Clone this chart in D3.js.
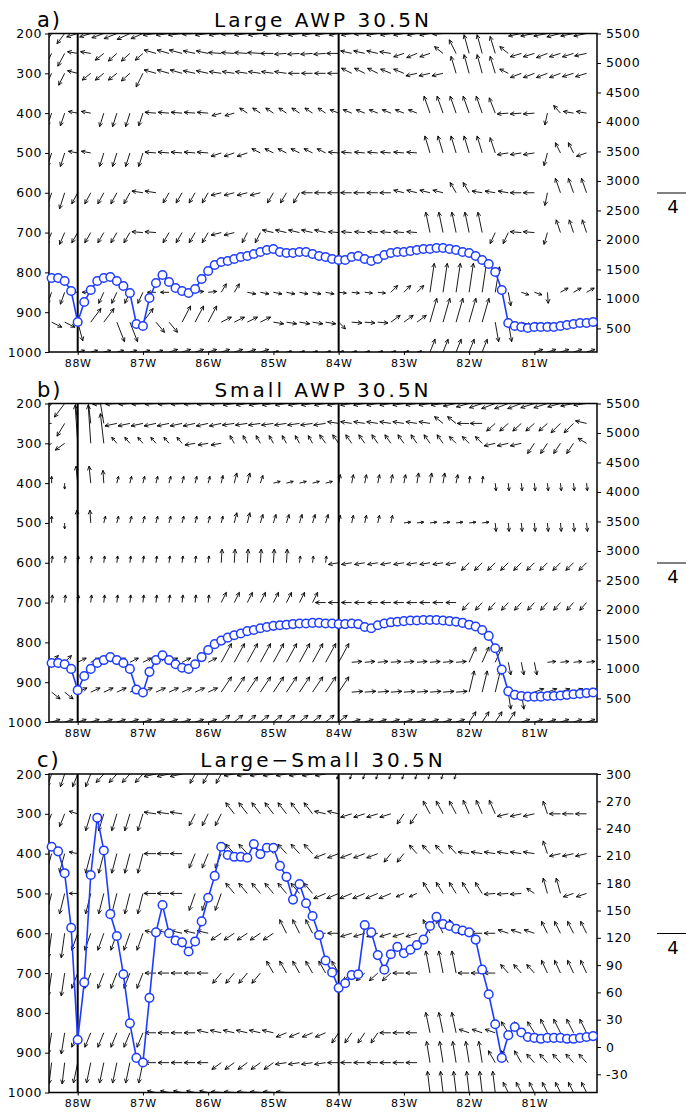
<!DOCTYPE html>
<html>
<head>
<meta charset="utf-8">
<script src="https://cdnjs.cloudflare.com/ajax/libs/d3/7.8.5/d3.min.js"></script>
<style>
  body { margin: 0; background: #fff; }
  svg text { font-family: "DejaVu Sans", sans-serif; fill: #000; }
</style>
</head>
<body>
<svg width="686" height="1113"></svg>
<script>
// ---- data ----
const levels = [200, 250, 300, 400, 500, 600, 700, 850, 925, 1000];
const presTicks = [200, 300, 400, 500, 600, 700, 800, 900, 1000];
const htTicks = [5500, 5000, 4500, 4000, 3500, 3000, 2500, 2000, 1500, 1000, 500];
const diffTicks = [300, 270, 240, 210, 180, 150, 120, 90, 60, 30, 0, -30];
const lonTicks = [-88, -87, -86, -85, -84, -83, -82, -81];
const markLons = [-88, -84];

// longitudes of the vectors (every 0.2 deg)
const lonV = [-88.4,-88.2,-88.0,-87.8,-87.6,-87.4,-87.2,-87.0,-86.8,-86.6,-86.4,-86.2,-86.0,-85.8,-85.6,-85.4,-85.2,-85.0,-84.8,-84.6,-84.4,-84.2,-84.0,-83.8,-83.6,-83.4,-83.2,-83.0,-82.8,-82.6,-82.4,-82.2,-82.0,-81.8,-81.6,-81.4,-81.2,-81.0,-80.8,-80.6,-80.4,-80.2];

// longitudes of the blue line points (every 0.1 deg)
const lonL = [-88.4,-88.3,-88.2,-88.1,-88.0,-87.9,-87.8,-87.7,-87.6,-87.5,-87.4,-87.3,-87.2,-87.1,-87.0,-86.9,-86.8,-86.7,-86.6,-86.5,-86.4,-86.3,-86.2,-86.1,-86.0,-85.9,-85.8,-85.7,-85.6,-85.5,-85.4,-85.3,-85.2,-85.1,-85.0,-84.9,-84.8,-84.7,-84.6,-84.5,-84.4,-84.3,-84.2,-84.1,-84.0,-83.9,-83.8,-83.7,-83.6,-83.5,-83.4,-83.3,-83.2,-83.1,-83.0,-82.9,-82.8,-82.7,-82.6,-82.5,-82.4,-82.3,-82.2,-82.1,-82.0,-81.9,-81.8,-81.7,-81.6,-81.5,-81.4,-81.3,-81.2,-81.1,-81.0,-80.9,-80.8,-80.7,-80.6,-80.5,-80.4,-80.3,-80.2,-80.1];

const heightLarge = [1355,1355,1304,1134,609,948,1151,1304,1355,1372,1304,1219,1100,575,541,1016,1270,1406,1287,1185,1134,1100,1168,1338,1473,1575,1626,1643,1677,1711,1728,1762,1796,1829,1846,1796,1779,1779,1796,1796,1762,1728,1711,1677,1660,1660,1711,1728,1677,1643,1677,1745,1779,1796,1796,1812,1829,1846,1846,1863,1863,1846,1829,1796,1779,1728,1660,1592,1456,1151,592,541,524,507,524,524,524,524,541,558,575,592,592,609];
const heightSmall = [1100,1100,1080,1000,640,880,1000,1100,1150,1200,1150,1100,1000,650,600,950,1150,1230,1150,1080,1020,1000,1080,1200,1320,1420,1480,1530,1570,1600,1640,1660,1690,1710,1730,1740,1750,1760,1770,1770,1780,1780,1770,1770,1760,1760,1770,1760,1710,1690,1740,1770,1790,1800,1810,1820,1820,1830,1830,1830,1820,1810,1800,1780,1750,1720,1660,1560,1350,990,620,560,540,530,530,530,540,540,550,560,570,580,590,600];
const heightDiff = [220,215,191,131,8,71,189,252,216,146,122,80,26,-12,-17,54,126,156,125,117,115,105,116,138,164,188,220,211,209,209,208,223,212,219,219,199,187,162,179,158,144,123,95,82,65,70,79,80,134,126,101,85,102,110,103,107,112,118,133,143,135,133,130,128,126,118,85,58,25,-12,13,22,16,11,10,9,10,10,10,9,9,10,11,12];

// vector components, one row per level (u east, w up; 4 = reference arrow)
const uLarge = [
 [-0.8,-0.9,-1.3,-1.3,-1.4,-1.5,-1.5,-1.4,-1.5,-1.5,-1.6,-1.5,-1.5,-1.4,-1.5,-1.5,-1.4,-1.2,-1.2,-1.3,-1.2,-1.2,-1.1,-1.2,-1.2,-1.3,-1.2,-1.2,-1.1,-1.2,-1.2,-1.0,-0.6,-0.5,-0.5,-0.8,-1.5,-1.6,-1.6,-1.6,-1.5,-1.5],
 [-0.8,-0.8,-1.2,-1.2,-1.0,-1.0,-1.0,-0.9,-1.4,-1.4,-1.5,-1.4,-1.4,-1.5,-1.5,-1.5,-1.5,-1.5,-1.4,-1.4,-1.4,-1.4,-1.4,-1.3,-1.3,-1.3,-1.3,-1.2,-1.2,-1.2,-1.0,-0.8,-0.6,-0.6,-0.6,-1.0,-1.3,-1.3,-1.3,-1.3,-1.3,-1.4],
 [-0.7,-0.7,-1.2,-1.0,-1.0,-1.0,-1.0,-0.8,-1.4,-1.4,-1.4,-1.4,-1.4,-1.4,-1.4,-1.4,-1.4,-1.4,-1.4,-1.3,-1.3,-1.3,-1.3,-1.2,-1.2,-1.2,-1.2,-1.2,-1.3,-1.3,-1.3,-0.6,-0.6,-0.6,-0.6,-1.0,-1.3,-1.3,-1.3,-1.3,-1.3,-1.3],
 [-0.5,-0.5,-1.1,-1.1,-0.5,-0.5,-0.5,-0.5,-1.3,-1.3,-1.3,-1.3,-1.3,-1.1,-1.1,-0.9,-0.9,-0.9,-0.9,-0.9,-0.9,-0.9,-1.0,-1.0,-1.0,-1.0,-1.0,-1.0,-1.0,-0.7,-0.7,-0.7,-0.7,-0.7,-0.7,-1.3,-1.3,-1.3,-0.3,-0.8,-1.2,-1.2],
 [-0.5,-0.5,-1.1,-1.1,-0.5,-0.5,-0.5,-0.5,-1.3,-1.3,-1.3,-1.3,-1.3,-1.2,-1.2,-1.2,-1.0,-1.0,-1.0,-1.0,-1.0,-1.0,-1.2,-1.2,-1.2,-1.2,-1.2,-1.2,-1.2,-0.6,-0.6,-0.6,-0.6,-0.6,-0.6,-1.3,-1.3,-1.3,-0.4,-0.6,-0.6,-1.2],
 [-0.6,-0.6,-0.7,-0.7,-0.7,-0.7,-0.7,-1.3,-1.3,-0.7,-0.7,-0.7,-0.7,-1.2,-1.2,-1.2,-1.2,-0.7,-0.7,-0.7,-1.3,-1.3,-1.3,-1.3,-1.3,-1.3,-1.3,-1.2,-1.2,-1.2,-1.2,-0.7,-0.7,-1.2,-1.2,-1.2,-1.3,-1.3,-0.3,-0.6,-0.6,-0.6],
 [-0.6,-0.6,-0.7,-0.7,-0.7,-0.7,-0.7,-1.3,-1.3,-0.7,-0.7,-0.7,-0.7,-1.2,-1.2,-0.6,-0.6,-1.3,-1.3,-1.3,-1.3,-1.3,-1.2,-1.2,-1.2,-1.2,-1.2,-1.2,-1.2,-0.5,-0.5,-0.5,-0.5,-0.5,-0.6,-0.6,-1.3,-1.3,-0.4,-0.5,-0.5,-0.5],
 [-0.5,-0.5,-1.0,-1.0,-0.6,-0.6,-0.6,-0.6,-1.0,-1.0,1.0,1.0,1.0,0.6,0.6,1.0,1.0,1.0,1.0,1.0,1.0,1.0,0.9,0.9,0.9,0.9,0.8,0.8,0.8,0.5,0.5,0.5,0.5,0.5,0.5,0.3,0.9,0.9,0.1,0.9,0.9,0.9],
 [1.2,1.2,0.6,1.2,1.2,0.9,0.9,1.2,1.0,1.0,1.0,1.0,1.0,1.2,1.2,1.2,1.2,1.2,1.2,1.2,1.2,1.2,0.8,1.2,1.2,1.2,1.1,1.1,1.1,0.8,0.8,0.8,0.8,0.8,0.4,0.4,1.2,1.2,1.2,1.2,1.2,1.2],
 [1.0,1.0,0.8,0.8,0.8,0.8,0.8,0.8,0.8,1.0,1.0,1.0,1.0,1.0,1.0,1.0,1.0,0.6,0.6,0.6,0.6,0.6,0.6,0.6,0.6,0.6,0.6,0.6,0.6,0.6,0.6,0.6,0.6,0.6,0.6,0.6,0.6,1.0,1.0,1.0,1.0,1.0]
];
const wLarge = [
 [-1.3,-1.2,-0.4,-0.4,-0.5,-0.6,-0.7,-0.6,-0.2,-0.2,-0.2,-0.1,-0.2,-0.2,-0.1,-0.2,-0.2,-0.2,-0.2,-0.2,-0.2,-0.2,-0.2,-0.2,-0.1,-0.2,-0.2,-0.2,-0.2,-0.2,-0.1,0.6,1.4,1.5,1.4,0.6,-0.3,-0.3,-0.3,-0.4,-0.3,-0.3],
 [-1.6,-1.5,0.2,0.2,-0.8,-0.9,-0.9,-0.8,0.4,0.4,0.4,0.3,0.3,0.1,0.1,0.1,0.1,0.0,-0.1,-0.1,-0.1,-0.1,0.0,0.3,0.3,0.3,0.2,-0.4,-0.5,-0.4,0.8,1.6,2.2,2.2,2.0,0.8,-0.4,-0.4,-0.5,-0.4,-0.4,-0.3],
 [-1.5,-1.4,0.3,-0.8,-0.8,-0.8,-0.9,-1.6,0.4,0.4,0.4,0.3,0.3,0.2,0.2,0.2,0.2,0.2,0.2,0.0,0.0,0.0,0.0,0.6,0.6,0.6,0.5,0.5,-0.3,-0.3,-0.3,2.0,2.2,2.2,2.0,0.5,-0.5,-0.5,-0.5,-0.5,-0.4,-0.4],
 [-1.5,-1.5,0.2,0.2,-1.6,-1.6,-1.6,-1.5,0.1,0.1,0.1,0.1,0.1,-0.3,-0.3,0.6,0.6,0.6,0.6,0.6,0.6,0.6,0.4,0.4,0.4,0.4,0.4,0.4,0.4,2.0,2.0,2.0,2.0,2.0,1.8,-0.1,-0.1,-0.1,-1.4,0.9,0.2,0.2],
 [-1.6,-1.6,0.2,0.2,-1.6,-1.6,-1.6,-1.6,0.1,0.1,0.1,0.1,0.1,-0.4,-0.4,-0.4,0.5,0.5,0.5,0.5,0.5,0.5,0.1,0.1,0.1,0.1,0.1,0.1,0.1,2.0,2.0,2.0,2.0,2.0,1.8,-0.2,-0.2,-0.2,-1.5,1.2,1.2,-0.4],
 [-1.9,-1.9,-1.3,-1.3,-1.3,-1.3,-1.3,0.2,0.2,-1.2,-1.2,-1.2,-1.2,-0.3,-0.3,-0.3,-0.3,-1.2,-1.2,-1.2,0.0,0.0,0.0,0.0,0.0,0.0,0.0,0.3,0.3,0.3,0.3,1.2,1.2,0.2,0.2,0.2,0.0,0.0,-1.5,1.7,1.7,1.7],
 [-1.4,-1.4,-1.2,-1.2,-1.2,-1.2,-1.2,0.1,0.1,-1.2,-1.2,-1.2,-1.2,-0.3,-0.3,-1.2,-1.2,0.3,0.3,0.3,0.3,0.3,0.1,0.1,0.1,0.1,0.1,0.1,0.1,2.4,2.4,2.4,2.4,2.4,-1.3,-1.3,0.1,0.1,-1.4,1.5,1.5,1.5],
 [-1.4,-1.4,0.0,0.0,-1.3,-1.3,-1.3,-1.3,0.0,0.0,0.0,0.1,0.1,1.0,1.0,-0.2,-0.2,-0.2,-0.2,-0.2,-0.2,-0.2,-0.1,-0.1,-0.1,-0.1,0.8,0.8,0.8,3.4,3.4,3.4,3.4,3.4,3.0,-1.6,-0.3,-0.3,-1.3,0.5,0.5,0.5],
 [-0.6,-0.6,-2.2,1.6,1.6,-2.3,-2.3,1.6,-1.2,-1.2,1.9,1.9,1.9,0.6,0.6,0.6,0.6,-0.2,-0.2,-0.2,-0.2,-0.2,-0.8,-0.1,-0.1,-0.1,0.8,0.8,0.8,2.8,2.8,2.8,2.8,2.8,-2.3,-2.3,-0.4,-0.4,-0.4,-0.4,-0.4,-0.4],
 [-1.0,-1.0,0.2,0.2,0.2,0.2,0.2,0.2,0.2,0.3,0.3,0.3,0.3,0.3,0.3,0.3,0.3,0.1,0.1,0.1,0.1,0.1,0.1,0.1,0.1,0.1,0.1,0.1,0.1,1.5,1.5,1.5,1.5,1.5,-0.5,-0.5,-0.5,0.3,0.3,0.3,0.3,0.3]
];

const uSmall = [
 [-1.2,-1.2,-0.3,-0.3,-1.3,-1.3,-1.3,-1.3,-1.3,-1.3,-1.3,-1.3,-1.3,-1.3,-1.3,-1.3,-1.3,-1.3,-1.3,-1.3,-1.3,-1.3,-1.3,-1.3,-1.3,-1.3,-1.3,-1.3,-1.3,-1.3,-1.4,-1.5,-1.5,-1.5,-1.6,-1.6,-1.6,-1.6,-1.6,-1.5,-1.5,-1.5],
 [-1.2,-0.9,-0.4,-0.4,-0.5,-1.4,-1.4,-1.4,-1.4,-1.4,-1.4,-1.4,-1.4,-1.4,-1.4,-1.4,-1.4,-1.4,-1.4,-1.4,-1.4,-1.4,-1.3,-1.3,-1.3,-1.3,-1.3,-1.3,-1.3,-1.3,-1.0,-1.0,-1.4,-1.4,-1.0,-1.0,-1.0,-1.0,-1.0,-1.1,-1.1,-1.3],
 [-1.1,-1.1,-0.3,-0.3,-0.4,-0.6,-0.6,-0.6,-0.6,-0.6,-0.6,-1.2,-1.2,-1.2,-0.5,-0.5,-0.5,-0.5,-0.5,-0.5,-0.5,-0.7,-0.7,-0.7,-0.7,-0.7,-0.7,-0.7,-0.7,-0.7,-0.7,-0.8,-0.8,-0.8,-1.3,-1.3,-1.3,-0.8,-0.8,-0.8,-0.8,-1.0],
 [0.0,0.0,-0.2,-0.2,-0.1,0.2,0.2,0.2,0.2,0.2,0.2,0.2,0.2,0.2,0.3,0.3,0.3,0.8,0.8,0.8,0.8,0.8,0.2,0.2,0.2,0.2,0.2,0.2,0.2,0.2,0.2,0.2,0.1,0.1,0.1,0.1,0.1,0.1,0.1,0.1,0.1,0.1],
 [0.0,0.0,-0.1,-0.1,0.2,0.2,0.2,0.2,0.2,0.2,0.2,0.2,0.2,0.2,0.3,0.3,0.3,0.3,0.3,0.3,0.3,0.3,0.2,0.2,0.2,0.2,0.2,0.8,0.8,0.8,0.8,0.8,0.8,0.8,0.1,0.1,0.1,0.1,0.1,0.1,0.1,0.1],
 [0.1,0.1,0.1,0.1,0.1,0.1,0.1,0.1,0.1,0.1,0.1,0.1,0.1,0.1,0.1,0.1,0.1,0.1,0.1,0.1,0.1,0.1,-1.2,-1.2,-1.2,-1.2,-1.2,-1.2,-1.2,-1.2,-1.2,-1.2,-0.9,-0.9,-0.9,-0.9,-0.9,-0.9,-0.9,-0.9,-0.9,-0.9],
 [0.1,0.1,0.1,0.1,0.1,0.1,0.1,0.1,0.1,0.1,0.1,0.1,0.1,0.6,0.6,0.6,0.6,0.6,0.6,0.6,0.6,-1.2,-1.2,-1.2,-1.2,-1.2,-1.2,-1.2,-1.2,-1.2,-1.2,-1.2,-0.8,-0.8,-0.8,-0.8,-0.8,-0.8,-0.8,-0.8,-0.8,-0.8],
 [0.8,0.8,1.0,1.0,1.0,1.0,1.0,1.0,1.0,1.0,1.0,1.0,1.0,1.2,1.2,1.2,1.2,1.2,1.2,1.2,1.2,1.2,1.2,1.2,1.2,1.2,1.2,1.2,1.2,1.2,1.2,1.2,0.8,0.8,0.8,0.3,0.3,0.3,1.0,1.0,1.0,1.0],
 [1.0,1.0,1.1,1.1,1.1,1.1,1.1,1.1,1.1,1.1,1.1,1.1,1.1,1.2,1.2,1.2,1.2,1.2,1.2,1.2,1.2,1.2,1.2,1.3,1.3,1.3,1.3,1.3,1.3,1.3,1.3,1.3,0.6,0.6,0.6,0.3,0.3,1.1,1.1,1.1,1.1,1.1],
 [1.0,1.0,1.0,1.0,1.0,1.0,1.0,1.0,1.0,1.0,1.0,1.0,1.0,1.0,1.0,1.0,1.0,1.0,1.0,1.0,1.0,1.0,1.0,1.0,1.0,1.0,1.0,1.0,1.0,1.0,1.0,1.0,0.8,0.8,0.8,0.8,1.0,1.0,1.0,1.0,1.0,1.0]
];
const wSmall = [
 [-1.6,-1.6,1.5,1.5,-0.1,-0.1,-0.1,-0.1,-0.1,-0.1,-0.1,-0.1,-0.1,-0.1,-0.2,-0.2,-0.2,-0.2,-0.2,-0.2,-0.2,-0.2,-0.2,-0.2,-0.2,-0.2,-0.2,-0.2,-0.2,-0.2,-0.2,-0.3,-0.4,-0.5,-0.6,-0.6,-0.6,-0.5,-0.5,-0.4,-0.3,-0.2],
 [0.0,-1.5,3.5,3.5,3.0,-0.3,-0.3,-0.3,-0.3,-0.3,-0.3,-0.3,-0.3,-0.3,-0.2,-0.2,-0.2,-0.2,-0.2,-0.2,-0.2,-0.2,0.2,0.2,0.2,0.2,0.2,0.2,0.2,0.2,0.8,0.8,0.0,0.0,-0.9,-0.9,-0.9,-0.9,-0.9,-1.1,-1.1,0.3],
 [-0.8,-0.8,4.5,4.5,3.5,0.7,0.7,0.7,0.7,0.7,0.7,-0.2,-0.2,-0.2,0.9,0.9,0.9,0.9,0.9,0.9,0.9,1.0,1.0,1.0,1.0,1.0,1.0,1.0,1.0,1.0,1.0,0.8,0.8,0.8,-0.3,-0.3,-0.3,-1.2,-1.2,-1.2,-1.2,0.6],
 [0.8,-0.7,2.0,2.0,1.5,0.8,0.8,0.8,0.8,0.8,0.8,0.8,0.8,0.9,1.2,1.2,0.9,0.2,0.2,0.2,0.2,0.2,1.0,1.0,1.0,1.0,1.0,1.0,1.2,1.2,1.2,1.0,0.8,0.8,-0.9,-0.9,-0.9,-0.9,-0.9,-0.9,-0.9,-0.9],
 [0.8,-0.7,1.5,1.5,0.8,0.8,0.8,0.8,0.8,0.8,0.8,0.8,0.8,0.8,1.2,1.2,1.0,1.0,1.0,1.0,1.0,1.0,0.9,0.9,0.9,0.9,0.9,0.1,0.1,0.1,0.1,0.1,0.1,0.1,-1.0,-1.0,-1.0,-1.0,-1.0,-1.0,-1.0,-1.0],
 [0.8,0.8,0.8,0.8,0.8,0.8,0.8,0.8,0.8,0.8,0.8,0.8,0.8,1.6,1.6,1.6,1.6,1.6,1.6,0.8,0.8,0.8,-0.2,-0.2,-0.2,-0.2,-0.2,-0.2,-0.2,-0.2,-0.2,-0.2,-0.9,-0.9,-0.9,-0.9,-0.9,-0.9,-0.9,-0.9,-0.9,-0.9],
 [0.9,0.9,0.9,0.9,0.9,0.9,0.9,0.9,0.9,0.9,0.9,0.9,0.9,1.2,1.2,1.2,1.2,1.2,1.2,1.2,1.2,0.0,0.0,0.0,0.0,0.0,0.0,0.0,0.0,0.0,0.0,0.0,-0.9,-0.9,-0.9,-0.9,-0.9,-0.9,-0.9,-0.9,-0.9,-0.9],
 [0.8,0.8,0.5,0.5,0.5,0.5,0.5,0.5,0.5,0.5,0.5,0.5,0.5,2.2,2.2,2.2,2.2,2.2,2.2,2.2,2.2,2.2,2.2,0.1,0.1,0.1,0.1,0.1,0.1,0.1,0.1,0.1,1.8,1.8,1.8,-1.5,-1.5,-1.5,0.1,0.1,0.1,0.1],
 [-0.8,-0.8,0.5,0.5,0.5,0.5,0.5,0.5,0.5,0.5,0.5,0.5,0.5,1.8,1.8,1.8,1.8,1.8,1.8,1.8,1.8,1.8,1.8,0.1,0.1,0.1,0.1,0.1,0.1,0.1,0.1,0.1,2.5,2.5,2.5,-2.0,-2.0,0.4,0.4,0.4,0.4,0.4],
 [0.3,0.3,0.3,0.3,0.3,0.3,0.3,0.3,0.3,0.3,0.3,0.3,0.3,0.8,0.8,0.8,0.8,0.8,0.8,0.8,0.8,0.8,0.8,0.3,0.3,0.3,0.3,0.3,0.3,0.3,0.3,0.3,1.2,1.2,1.2,1.2,0.3,0.3,0.3,0.3,0.3,0.3]
];

// difference panel has no 250 hPa row
const uDiff = [
 [-0.5,-0.5,-0.6,-0.6,-0.9,-0.9,-0.9,-0.9,-1.4,-1.4,-1.4,-0.6,-0.6,-0.6,-1.2,-1.2,-1.2,-1.2,-1.2,-1.2,-1.2,-1.2,-0.2,-0.2,-0.2,-0.2,-0.2,-0.2,-0.2,-0.2,-0.2,-0.2,-0.2,-0.2,-0.2,-0.2,-0.2,-0.2,-0.2,-0.2,-0.2,-0.2],
 null,
 [-0.6,-0.6,-1.0,-0.6,-0.6,-0.6,-0.6,-0.6,-1.4,-1.4,-1.4,-0.7,-0.7,-0.7,-1.0,-1.0,-1.0,-1.0,-1.0,-1.0,-1.0,-1.3,-1.3,-1.3,-1.3,-1.3,-1.3,-0.8,-0.8,-0.8,-0.8,-0.8,-0.7,-0.7,-0.7,-1.3,-1.3,-1.3,-0.5,-1.3,-1.3,-1.3],
 [-0.6,-0.6,-1.0,-0.6,-0.6,-0.6,-0.6,-0.6,-1.4,-1.4,-1.4,-0.7,-0.7,-0.7,-1.0,-1.0,-1.0,-1.0,-1.0,-1.0,-1.0,-1.3,-1.3,-1.3,-1.3,-1.3,-0.8,-0.8,-0.9,-0.9,-0.9,-0.9,-1.3,-1.3,-1.3,-1.3,-1.3,-1.3,-0.5,-1.3,-1.3,-1.3],
 [-0.6,-0.6,-1.0,-0.6,-0.6,-0.6,-0.6,-0.6,-1.4,-1.4,-1.4,-0.7,-0.7,-0.7,-1.0,-1.0,-1.0,-1.0,-1.0,-1.0,-1.0,-1.4,-1.4,-1.4,-1.4,-1.4,-1.4,-0.9,-0.9,-0.8,-0.8,-0.8,-0.8,-0.8,-1.3,-1.3,-1.3,-0.9,-0.5,-0.5,-1.2,-1.2],
 [-0.4,-0.4,-0.7,-0.7,-0.7,-0.7,-0.7,-0.7,-1.3,-1.3,-1.3,-1.3,-1.3,-1.2,-1.2,-1.2,-1.2,-1.2,-0.8,-0.8,-0.8,-1.3,-1.3,-1.3,-1.3,-1.3,-1.3,-1.3,-1.3,-0.8,-0.8,-0.8,-1.3,-1.3,-1.3,-1.2,-1.2,-1.2,-0.7,-0.7,-0.7,-0.7],
 [-0.4,-0.4,-0.7,-0.7,-0.7,-0.7,-0.7,-0.7,-1.3,-1.3,-1.3,-1.3,-1.3,-1.0,-1.0,-1.0,-1.0,-0.8,-0.8,-0.8,-0.8,-0.8,-0.8,-1.0,-1.0,-1.0,-1.0,-1.3,-1.3,-0.5,-0.5,-0.5,-1.3,-1.3,-1.3,-0.9,-0.9,-0.9,-0.7,-0.7,-0.7,-0.7],
 [-0.4,-0.4,-0.7,-0.7,-0.7,-0.7,-0.7,-0.7,-1.3,-1.3,-1.3,-1.3,-1.3,-1.3,-1.3,-1.3,-1.3,-1.3,-1.2,-1.2,-1.2,-1.2,-0.8,-0.8,-0.8,-0.8,-1.3,-1.3,-1.3,-0.5,-0.5,-0.5,-1.2,-1.2,-1.2,-0.8,-0.8,-0.8,-0.8,-0.8,-0.8,-0.8],
 [-0.3,-0.3,-0.5,-0.5,-0.5,-0.5,-0.5,-0.5,-1.3,-1.3,-1.3,-1.3,-1.3,-1.1,-1.1,-1.1,-1.1,-1.1,-1.3,-1.3,-1.3,-1.3,-1.3,-1.3,-1.3,-1.3,-1.3,-1.3,-1.3,-0.4,-0.4,-0.4,-0.4,-0.4,-0.8,-0.8,-0.8,-0.9,-0.9,-0.9,-0.9,-0.9],
 [-0.3,-0.3,-0.3,-0.3,-0.3,-0.3,-0.3,-0.3,-1.0,-1.0,-1.0,-1.0,-1.0,-1.2,-1.2,-1.2,-1.2,-1.2,-1.2,-0.5,-0.5,-0.5,-0.5,-0.5,-0.5,-0.5,-0.5,-0.5,-0.5,-0.3,-0.3,-0.3,-0.3,-0.3,-0.3,-0.6,-0.6,-0.6,-0.6,-0.6,-0.6,-0.6]
];
const wDiff = [
 [-1.5,-1.5,-1.5,-1.5,-1.0,-1.0,-1.0,-1.0,-0.3,-0.3,-0.3,-1.1,-1.1,-1.1,-0.2,-0.2,-0.2,-0.2,-0.2,-0.2,-0.2,-0.2,-0.6,-0.6,-0.6,-0.6,-0.6,-0.6,-0.6,-0.6,-0.6,-0.6,0.8,0.8,0.8,0.8,0.8,0.8,0.8,0.8,0.8,0.8],
 null,
 [-1.5,-1.5,0.3,-2.0,-2.0,-2.0,-2.0,-2.0,0.2,0.2,0.2,-1.4,-1.4,-1.4,1.3,1.3,1.3,1.3,1.3,1.3,1.3,0.3,0.3,-0.4,-0.4,-0.4,-0.4,-1.2,-1.2,1.5,1.5,1.5,1.6,1.6,1.6,-0.3,-0.3,-0.3,1.5,0.0,0.0,0.0],
 [-2.2,-2.2,0.2,-2.3,-2.3,-2.3,-2.3,-2.3,0.0,0.0,0.0,-1.7,-1.7,-1.7,1.1,1.1,1.1,1.1,1.1,1.1,1.1,-0.5,-0.5,-0.5,-0.5,-0.5,-1.0,-1.0,1.0,1.0,1.0,1.0,0.2,0.2,0.2,0.2,0.2,0.2,1.5,-0.3,-0.3,-0.3],
 [-2.4,-2.4,0.0,-2.4,-2.4,-2.4,-2.4,-2.4,0.0,0.0,0.0,-2.0,-2.0,-2.0,1.2,1.2,1.2,1.2,1.2,1.2,1.2,-0.6,-0.6,-0.6,-0.6,-0.6,-0.6,-0.4,-0.4,1.3,1.3,1.3,1.3,1.3,-0.1,-0.1,-0.1,0.6,1.8,1.8,-0.4,-0.4],
 [-2.9,-2.9,-2.0,-2.0,-2.0,-2.0,-2.0,-2.0,0.3,0.3,0.3,0.3,0.3,-0.8,-0.8,-0.8,-0.8,-0.8,1.6,1.6,1.6,0.0,0.0,-0.4,-0.4,-0.4,-0.4,-0.4,-0.4,1.6,1.6,1.6,0.0,0.0,0.0,0.4,0.4,0.4,1.4,1.4,1.4,1.4],
 [-2.7,-2.7,-1.8,-1.8,-1.8,-1.8,-1.8,-1.8,0.0,0.0,0.0,0.0,0.0,-1.2,-1.2,-1.2,-1.2,1.4,1.4,1.4,1.4,1.4,1.4,-0.9,-0.9,-0.9,-0.9,0.0,0.0,2.6,2.6,2.6,0.0,0.0,0.0,1.0,1.0,1.0,1.5,1.5,1.5,1.5],
 [-2.5,-2.5,-1.7,-1.7,-1.7,-1.7,-1.7,-1.7,0.0,0.0,0.0,0.0,0.3,0.3,0.3,0.3,0.3,0.3,-0.5,-0.5,-0.5,-0.5,-1.2,-1.2,-1.2,-1.2,0.0,0.0,0.0,2.4,2.4,2.4,0.4,0.4,0.4,1.3,1.3,1.3,1.6,1.6,1.6,1.6],
 [-2.5,-2.5,-2.4,-2.4,-2.4,-2.4,-2.4,-2.4,0.0,0.0,0.0,0.0,0.0,-0.8,-0.8,-0.8,-0.8,-0.8,-0.2,-0.2,-0.2,-0.2,0.0,0.0,0.0,0.0,0.0,0.0,0.0,2.5,2.5,2.5,2.5,2.5,1.4,1.4,1.4,1.0,1.0,1.0,1.0,1.0],
 [-2.0,-2.0,-2.0,-2.0,-2.0,-2.0,-2.0,-2.0,0.2,0.2,0.2,0.2,0.2,0.1,0.1,0.1,0.1,0.1,0.1,-0.8,-0.8,-0.8,-0.8,-0.8,-0.8,-0.8,-0.8,-0.8,-0.8,2.5,2.5,2.5,2.5,2.5,2.5,1.2,1.2,1.2,1.2,1.2,1.2,1.2]
];

// ---- layout ----
const svg = d3.select("svg");
const left = 49, right = 597, plotH = 318.5;
const panelTops = [33.5, 403.5, 774];
const blue = "#1e3cff";

const panels = [
  { tag: "a)", title: "Large AWP 30.5N", line: heightLarge, u: uLarge, w: wLarge, rDomain: [100, 5500], rTicks: htTicks },
  { tag: "b)", title: "Small AWP 30.5N", line: heightSmall, u: uSmall, w: wSmall, rDomain: [100, 5500], rTicks: htTicks },
  { tag: "c)", title: "Large\u2212Small 30.5N", line: heightDiff, u: uDiff, w: wDiff, rDomain: [-50, 300], rTicks: diffTicks }
];

// length of a vector: the "4" reference arrow
const vec = d3.scaleLinear().domain([0, 4]).range([0, 34]);

const arrowPath = (x0, y0, dx, dy) => {
  const len = Math.hypot(dx, dy);
  if (len < 0.5) return "";
  const x1 = x0 + dx, y1 = y0 + dy;
  const ang = Math.atan2(dy, dx);
  const h = Math.min(4.5, len * 0.45);
  const a1 = ang + Math.PI - 0.45, a2 = ang + Math.PI + 0.45;
  return "M" + x0 + "," + y0 + "L" + x1 + "," + y1 +
         "M" + (x1 + h * Math.cos(a1)) + "," + (y1 + h * Math.sin(a1)) +
         "L" + x1 + "," + y1 +
         "L" + (x1 + h * Math.cos(a2)) + "," + (y1 + h * Math.sin(a2));
};

const styleAxis = (sel, size) => {
  sel.select(".domain").remove();
  sel.selectAll(".tick line").attr("stroke", "#000").attr("stroke-width", 1);
  sel.selectAll(".tick text")
     .attr("fill", "#000")
     .style("font-size", size + "px")
     .style("letter-spacing", "0.6px")
     .style("font-family", "DejaVu Sans, sans-serif");
};

panels.forEach((p, n) => {
  const top = panelTops[n];
  const x = d3.scaleLinear().domain([-88.44, -80.04]).range([left, right]);
  const y = d3.scaleLinear().domain([200, 1000]).range([top, top + plotH]);
  const yR = d3.scaleLinear().domain(p.rDomain).range([top + plotH, top]);

  const g = svg.append("g");

  svg.append("clipPath").attr("id", "clip" + n)
     .append("rect").attr("x", left).attr("y", top)
     .attr("width", right - left).attr("height", plotH);

  // wind vectors
  const vg = g.append("g").attr("clip-path", "url(#clip" + n + ")")
              .attr("fill", "none").attr("stroke", "#000").attr("stroke-width", 0.9);
  levels.forEach((lev, j) => {
    if (!p.u[j]) return;
    vg.append("g").selectAll("path")
      .data(lonV)
      .join("path")
      .attr("d", (lon, i) => {
        const u = p.u[j][i], w = p.w[j][i];
        const sx = u < 0 ? -1 : 1, sy = w < 0 ? -1 : 1;
        return arrowPath(x(lon), y(lev), sx * vec(Math.abs(u)), -sy * vec(Math.abs(w)));
      });
  });

  // 88W and 84W marker lines
  g.selectAll(".mark").data(markLons).join("line")
    .attr("x1", d => x(d)).attr("x2", d => x(d))
    .attr("y1", top).attr("y2", top + plotH)
    .attr("stroke", "#000").attr("stroke-width", 2);

  // frame
  g.append("rect").attr("x", left).attr("y", top)
    .attr("width", right - left).attr("height", plotH)
    .attr("fill", "none").attr("stroke", "#000").attr("stroke-width", 1.5);

  // axes
  g.append("g").attr("transform", "translate(" + left + ",0)")
    .call(d3.axisLeft(y).tickValues(presTicks).tickSize(4).tickPadding(3).tickFormat(d => String(d)))
    .call(s => styleAxis(s, 12.5));
  g.append("g").attr("transform", "translate(" + right + ",0)")
    .call(d3.axisRight(yR).tickValues(p.rTicks).tickSize(4).tickPadding(5).tickFormat(d => String(d)))
    .call(s => styleAxis(s, 12.5));
  g.append("g").attr("transform", "translate(0," + (top + plotH) + ")")
    .call(d3.axisBottom(x).tickValues(lonTicks).tickSize(3).tickPadding(4).tickFormat(d => (-d) + "W"))
    .call(s => styleAxis(s, 11));

  // blue line with open circles
  g.append("path").datum(p.line)
    .attr("fill", "none").attr("stroke", blue).attr("stroke-width", 1.6)
    .attr("d", d3.line().x((d, i) => x(lonL[i])).y(d => yR(d)));
  g.append("g").selectAll("circle").data(p.line).join("circle")
    .attr("cx", (d, i) => x(lonL[i])).attr("cy", d => yR(d)).attr("r", 4.3)
    .attr("fill", "#fff").attr("stroke", blue).attr("stroke-width", 1.5);

  // titles
  g.append("text").attr("x", 37).attr("y", top - 7)
    .style("font-size", "21px").style("letter-spacing", "2px").text(p.tag);
  g.append("text").attr("x", (left + right) / 2).attr("y", top - 7)
    .attr("text-anchor", "middle")
    .style("font-size", "20px").style("letter-spacing", "3px").text(p.title);

  // reference vector
  const ry = top + 159.5;
  g.append("path").attr("d", arrowPath(657, ry, vec(4), 0))
    .attr("fill", "none").attr("stroke", "#000").attr("stroke-width", 1);
  g.append("text").attr("x", 673).attr("y", ry + 20).attr("text-anchor", "middle")
    .style("font-size", "18px").text("4");
});
</script>
</body>
</html>
